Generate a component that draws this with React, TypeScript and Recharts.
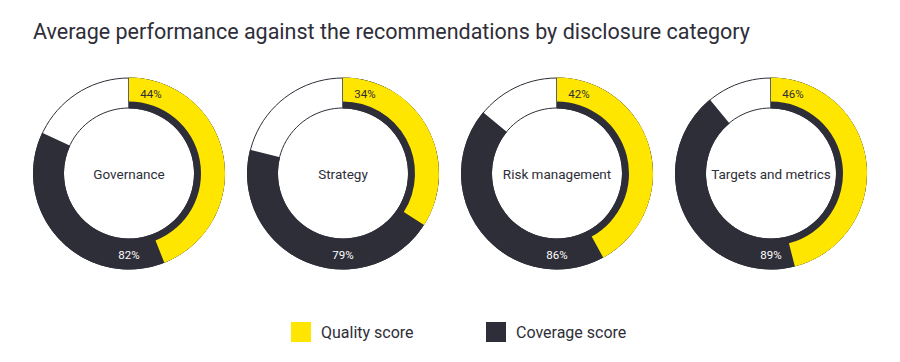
import React from 'react';
import { PieChart, Pie, Cell } from 'recharts';

const title = 'Average performance against the recommendations by disclosure category';
const categories = ['Governance', 'Strategy', 'Risk management', 'Targets and metrics'];
const qualityScores = [44, 34, 42, 46];
const coverageScores = [82, 79, 86, 89];
const legendLabels = ['Quality score', 'Coverage score'];

const YELLOW = '#FFE600';
const DARK = '#2E2E38';
const FONT = 'Roboto, "Noto Sans", sans-serif';

const CENTERS = [129, 343, 557, 771];
const CY = 173.5;
const OUTER = 96;
const INNER = 65;
const QUALITY_INNER = 72;

const makeLabel = (text: string, color: string, dx: number, dy: number, size: number) => (p: any) => {
  if (p.index !== 0) return null;
  return (
    <text
      x={p.cx + dx}
      y={p.cy + dy}
      fill={color}
      textAnchor="middle"
      dominantBaseline="central"
      fontSize={size}
      fontFamily={FONT}
    >
      {text}
    </text>
  );
};

export default function App() {
  const legendColors = [YELLOW, DARK];
  return (
    <div style={{ position: 'absolute', left: 0, top: 0, width: 900, height: 362, background: '#fff', fontFamily: FONT }}>
      <div
        style={{
          position: 'absolute',
          left: 33,
          top: 18,
          fontSize: 21.5,
          color: DARK,
          whiteSpace: 'nowrap',
          lineHeight: '28px',
        }}
      >
        {title}
      </div>
      <div style={{ position: 'absolute', left: 0, top: 0 }}>
        <PieChart width={900} height={362} margin={{ top: 0, right: 0, bottom: 0, left: 0 }}>
          {categories.map((cat, i) => (
            <Pie
              key={'bg' + i}
              data={[{ name: cat, value: 1 }]}
              dataKey="value"
              cx={CENTERS[i]}
              cy={CY}
              innerRadius={INNER + 0.5}
              outerRadius={OUTER - 0.5}
              startAngle={90}
              endAngle={-270}
              fill="#ffffff"
              stroke={DARK}
              strokeWidth={1}
              isAnimationActive={false}
              labelLine={false}
              label={makeLabel(cat, DARK, 0, 0, 13.5)}
            />
          ))}
          {categories.map((cat, i) => (
            <Pie
              key={'cov' + i}
              data={[
                { name: 'Coverage score', value: coverageScores[i] },
                { name: 'rest', value: 100 - coverageScores[i] },
              ]}
              dataKey="value"
              cx={CENTERS[i]}
              cy={CY}
              innerRadius={INNER}
              outerRadius={OUTER}
              startAngle={90}
              endAngle={-270}
              stroke="none"
              isAnimationActive={false}
              labelLine={false}
              label={makeLabel(coverageScores[i] + '%', '#ffffff', 0, 81, 11.5)}
            >
              <Cell fill={DARK} />
              <Cell fill="transparent" />
            </Pie>
          ))}
          {categories.map((cat, i) => (
            <Pie
              key={'q' + i}
              data={[
                { name: 'Quality score', value: qualityScores[i] },
                { name: 'rest', value: 100 - qualityScores[i] },
              ]}
              dataKey="value"
              cx={CENTERS[i]}
              cy={CY}
              innerRadius={QUALITY_INNER}
              outerRadius={OUTER}
              startAngle={90}
              endAngle={-270}
              stroke="none"
              isAnimationActive={false}
              labelLine={false}
              label={makeLabel(qualityScores[i] + '%', DARK, 22, -80, 11.5)}
            >
              <Cell fill={YELLOW} />
              <Cell fill="transparent" />
            </Pie>
          ))}
        </PieChart>
      </div>
      {legendLabels.map((lab, i) => (
        <div
          key={lab}
          style={{
            position: 'absolute',
            left: i === 0 ? 291 : 486,
            top: 322,
            display: 'flex',
            alignItems: 'center',
            height: 20,
          }}
        >
          <div style={{ width: 20, height: 20, background: legendColors[i], marginRight: 10 }} />
          <span style={{ fontSize: 16, color: DARK, whiteSpace: 'nowrap' }}>{lab}</span>
        </div>
      ))}
    </div>
  );
}
